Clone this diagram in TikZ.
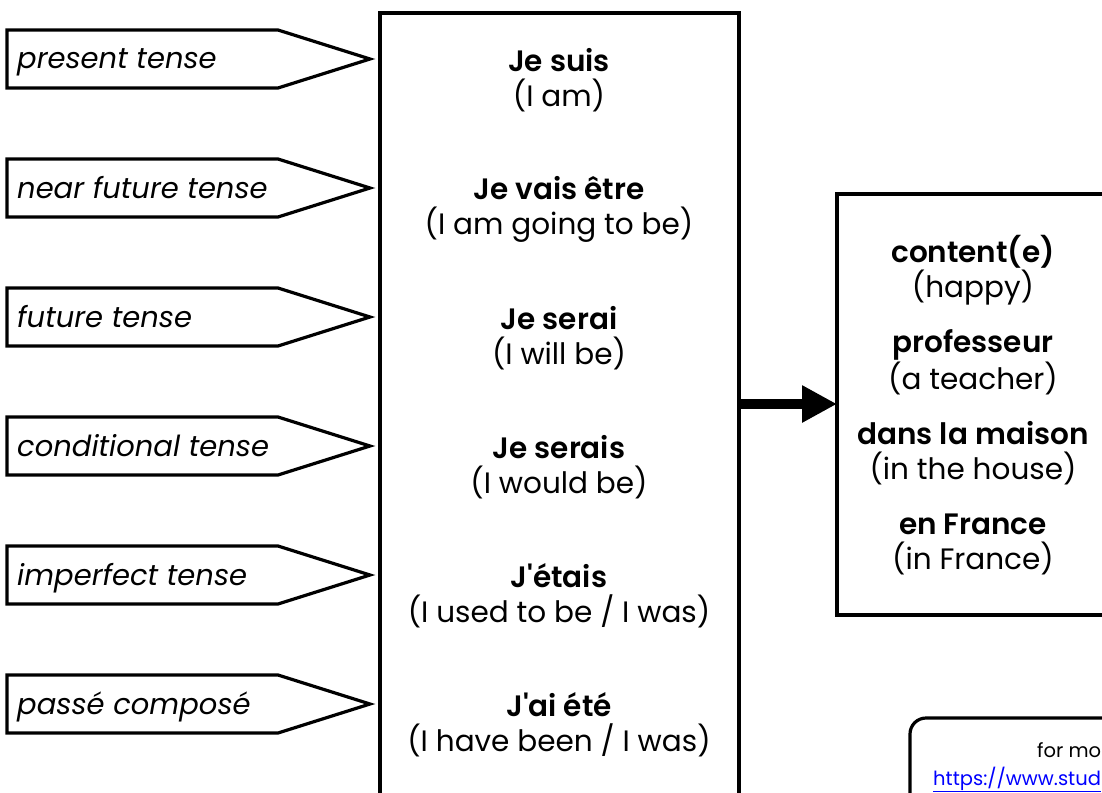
\documentclass[tikz,border=0pt]{standalone}
\usepackage{fontspec}
\setmainfont{Poppins}[Ligatures=TeXOff, BoldFont={Poppins SemiBold}]
\usetikzlibrary{arrows.meta}
\begin{document}
\begin{tikzpicture}[x=1pt,y=-1pt,
  tenseshape/.style={draw, line width=3.2pt, fill=white},
  tenselabel/.style={anchor=base west, inner sep=0pt, font=\fontsize{29}{32}\selectfont\itshape},
  verbtext/.style={align=center, inner sep=0pt, font=\fontsize{29.5}{35}\selectfont},
  boxline/.style={draw, line width=3.2pt},
  foottext/.style={anchor=base west, inner sep=0pt, font=\fontsize{19.5}{22}\selectfont}]
\useasboundingbox (0,0) rectangle (1102,792);
\clip (0,0) rectangle (1102,792);
\fill[white] (0,0) rectangle (1102,792);
% tense pentagons
\foreach \y/\txt [count=\i] in {59/present tense, 188/near future tense, 317/future tense, 446/conditional tense, 575/imperfect tense, 704/passé composé}{
  \draw[tenseshape] (7,\y-29) -- (278,\y-29) -- (370,\y) -- (278,\y+29) -- (7,\y+29) -- cycle;
  \node[tenselabel] (t\i) at (17,\y+10) {\txt};
}
% main box
\draw[boxline] (380,13) rectangle (739,830);
\coordinate (mainE) at (739,404);
\foreach \y/\a/\b [count=\i] in {59/{Je suis}/{(I am)}, 188/{Je vais être}/{(I am going to be)}, 317/{Je serai}/{(I will be)}, 446/{Je serais}/{(I would be)}, 575/{J'étais}/{(I used to be / I was)}, 704/{J'ai été}/{(I have been / I was)}}{
  \node[verbtext] (v\i) at (559,\y+21) {\textbf{\a}\\\b};
}
% right box
\draw[boxline] (837,194) rectangle (1130,615);
\coordinate (rightW) at (837,404);
\node[verbtext] (adj) at (973,405) {\textbf{content(e)}\\(happy)\\[20pt]\textbf{professeur}\\(a teacher)\\[20pt]\textbf{dans la maison}\\(in the house)\\[20pt]\textbf{en France}\\(in France)};
\draw[line width=10pt, -{Triangle[length=35pt,width=35pt]}] (mainE) -- (rightW);
% footer box
\draw[line width=3.2pt, rounded corners=16pt] (910,800) -- (910,718) -- (1130,718);
\node[foottext] (more) at (1037,757) {for mo};
\node[foottext, text=blue] (link) at (933,785) {\underline{https://www.stud}};
\end{tikzpicture}
\end{document}
